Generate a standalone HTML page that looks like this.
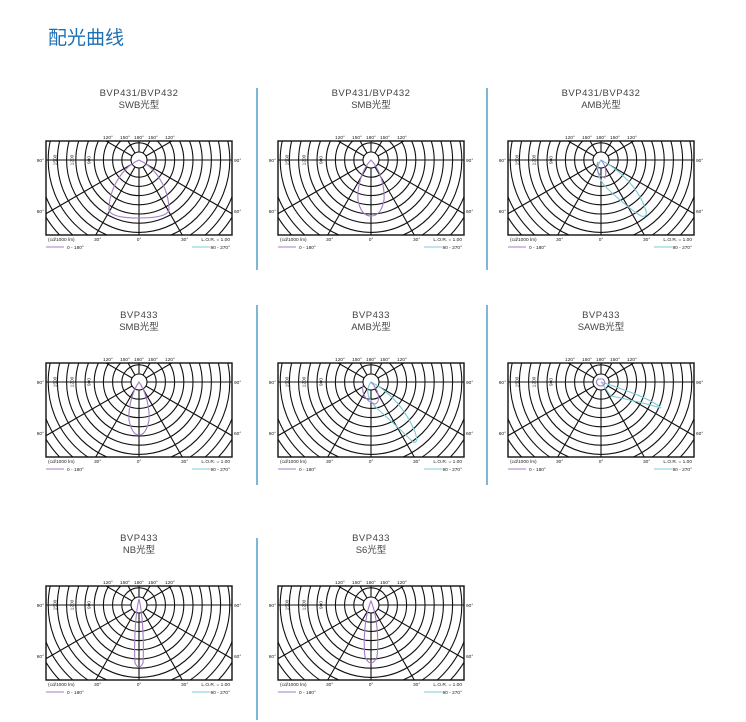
<!DOCTYPE html>
<html><head><meta charset="utf-8"><style>
html,body{margin:0;background:#fff;width:746px;height:722px;overflow:hidden;font-family:"Liberation Sans","Noto Sans CJK SC",sans-serif}
svg{display:block}
</style></head><body>
<svg id="s" width="746" height="722" xmlns="http://www.w3.org/2000/svg" font-family="Liberation Sans, Noto Sans CJK SC, sans-serif">
<text x="48" y="44" font-size="19" fill="#1d6fb3" font-family="Noto Sans CJK SC, sans-serif">配光曲线</text>
<g stroke="#3b8fc4" stroke-width="1.3">
<line x1="257" y1="88" x2="257" y2="270"/><line x1="487" y1="88" x2="487" y2="270"/>
<line x1="257" y1="305" x2="257" y2="485"/><line x1="487" y1="305" x2="487" y2="485"/>
<line x1="257" y1="538" x2="257" y2="720"/>
</g>
</svg>
<script>
const svg=document.getElementById('s');
let html='';
const P='#a47cc4',C='#7ccad8';
function chart(id,cx,cy,t1,t2,curves){
 const L=cx-93,R=cx+93,T=cy-19,B=cy+75;
 let g=`<defs><clipPath id="c${id}"><rect x="${L}" y="${T}" width="186" height="94"/></clipPath></defs>`;
 g+=`<text x="${cx}" y="${cy-64}" font-size="9.5" fill="#444" text-anchor="middle" letter-spacing="0.5">${t1}</text>`;
 g+=`<text x="${cx}" y="${cy-52}" font-size="9.5" fill="#444" text-anchor="middle">${t2}</text>`;
 g+=`<g clip-path="url(#c${id})" stroke="#111" stroke-width="1.1" fill="none">`;
 g+=`<circle cx="${cx}" cy="${cy}" r="8"/>`;
 for(let k=1;k<=11;k++)g+=`<circle cx="${cx}" cy="${cy}" r="${8+9.2*k}"/>`;
 for(let a=0;a<360;a+=30){const r=a*Math.PI/180;const dx=Math.sin(r),dy=Math.cos(r);
  g+=`<line x1="${cx+8*dx}" y1="${cy+8*dy}" x2="${cx+220*dx}" y2="${cy+220*dy}"/>`;}
 g+=`</g><rect x="${L}" y="${T}" width="186" height="94" fill="none" stroke="#111" stroke-width="1.4"/>`;
 g+=`<g transform="translate(${cx},${cy})" fill="none" stroke-width="1.1">`;
 curves.forEach(c=>g+=`<path d="${c[1]}" stroke="${c[0]}"/>`);
 g+=`</g>`;
 const f='font-size="4.8" fill="#222"';
 [[-31,'120°'],[-14,'150°'],[0,'180°'],[14,'150°'],[31,'120°']].forEach(a=>g+=`<text x="${cx+a[0]}" y="${T-2}" ${f} text-anchor="middle">${a[1]}</text>`);
 g+=`<text x="${L-2}" y="${cy+2}" ${f} text-anchor="end">90°</text><text x="${R+2}" y="${cy+2}" ${f}>90°</text>`;
 g+=`<text x="${L-2}" y="${cy+53}" ${f} text-anchor="end">60°</text><text x="${R+2}" y="${cy+53}" ${f}>60°</text>`;
 g+=`<text x="${L+2}" y="${B+6}" ${f}>(cd/1000 lm)</text><text x="${cx-45}" y="${B+6}" ${f}>30°</text><text x="${cx}" y="${B+6}" ${f} text-anchor="middle">0°</text><text x="${cx+42}" y="${B+6}" ${f}>30°</text><text x="${R-2}" y="${B+6}" ${f} text-anchor="end">L.O.R. = 1.00</text>`;
 g+=`<line x1="${L}" y1="${B+12}" x2="${L+18}" y2="${B+12}" stroke="${P}"/><text x="${L+21}" y="${B+14}" ${f}>0 - 180°</text>`;
 g+=`<line x1="${R-40}" y1="${B+12}" x2="${R-22}" y2="${B+12}" stroke="${C}"/><text x="${R-2}" y="${B+14}" ${f} text-anchor="end">90 - 270°</text>`;
 ['1500','1200','900'].forEach((n,i)=>g+=`<text transform="translate(${L+9+i*17},${cy}) rotate(-90)" ${f} text-anchor="middle" dy="1.5">${n}</text>`);
 html+=g;
}
chart(1,139,160,'BVP431/BVP432','SWB光型',[[P,'M0,0 C-18,8 -30,30 -30,50 Q-28,58 0,58 Q28,58 30,50 C30,30 18,8 0,0Z']]);
chart(2,371,160,'BVP431/BVP432','SMB光型',[[P,'M0,0 C-8,8 -14,25 -13,40 Q-10,56 0,56 Q10,56 13,40 C14,25 8,8 0,0Z']]);
chart(3,601,160,'BVP431/BVP432','AMB光型',[[C,'M0,0 C-6,8 -4,20 10,32 Q30,50 40,56 Q48,58 44,48 C38,30 20,10 0,0Z'],[P,'M-3,2 C-6,10 -2,16 4,18 C6,12 4,4 0,0']]);
chart(4,139,382,'BVP433','SMB光型',[[P,'M0,0 C-6,8 -11,25 -10,38 Q-7,53 0,53 Q7,53 10,38 C11,25 6,8 0,0Z']]);
chart(5,371,382,'BVP433','AMB光型',[[C,'M0,0 C-6,8 -4,18 10,30 Q30,48 42,60 Q48,62 44,50 C36,30 20,10 0,0Z'],[P,'M-8,3 C-10,12 -4,20 4,22 C10,20 8,8 0,0']]);
chart(6,601,382,'BVP433','SAWB光型',[[C,'M0,0 C4,4 6,10 10,14 Q40,20 60,26 Q50,16 0,0Z'],[P,'M-3,-3 C-6,0 -4,4 0,4 C4,4 5,0 2,-3Z']]);
chart(7,139,605,'BVP433','NB光型',[[P,'M0,-6 C-4,10 -5,40 -4,58 Q0,66 4,58 C5,40 4,10 0,-6Z']]);
chart(8,371,605,'BVP433','S6光型',[[P,'M0,-4 C-6,10 -8,35 -6,52 Q0,64 6,52 C8,35 6,10 0,-4Z']]);
svg.insertAdjacentHTML('beforeend',html);
</script>
</body></html>
